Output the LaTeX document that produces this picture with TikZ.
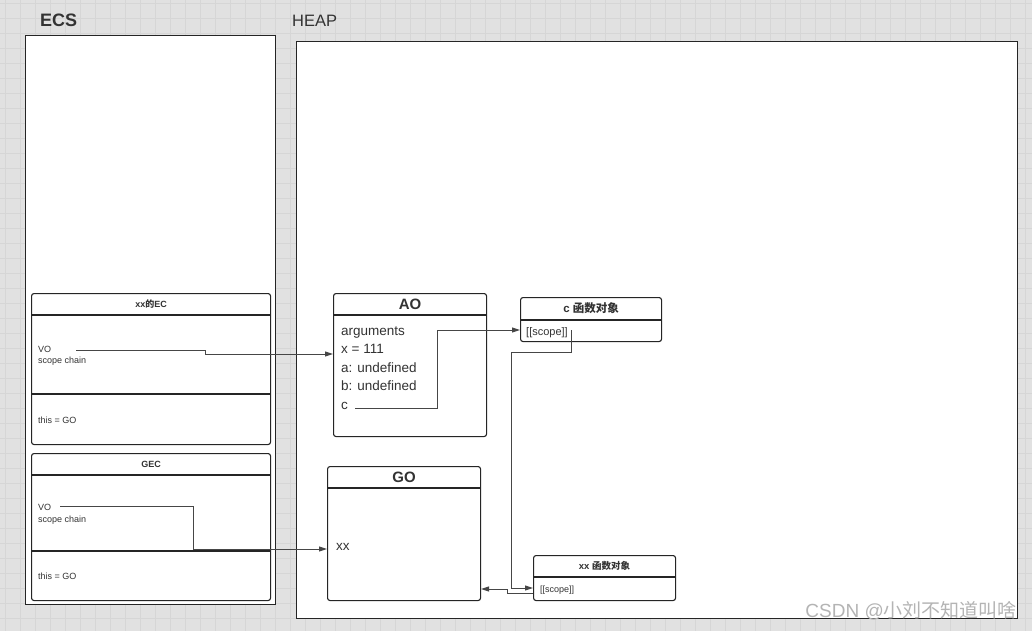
\documentclass[tikz,border=0pt]{standalone}
\usepackage{fontspec}
\setmainfont{Liberation Sans}
\newfontfamily\cjk{Noto Sans CJK SC}
\usetikzlibrary{arrows.meta,calc}
\definecolor{bg}{HTML}{E1E1E1}
\definecolor{gridc}{HTML}{D6D6D6}
\definecolor{ink}{HTML}{252525}
\definecolor{txt}{HTML}{333333}
\definecolor{wm}{HTML}{B4B4B4}
\tikzset{
  outerbox/.style={draw=ink, fill=white, line width=1.3pt, anchor=north west, inner sep=0pt},
  innerbox/.style={draw=ink, fill=white, line width=1.1pt, rounded corners=2.5pt, anchor=north west, inner sep=0pt},
  hdr/.style={draw=ink, line width=1.1pt},
  small/.style={font=\fontsize{9}{10}\selectfont, text=txt, anchor=base west, inner sep=0pt},
  smalltitle/.style={font=\fontsize{9}{10}\selectfont\bfseries, text=txt, inner sep=0pt},
  big/.style={font=\fontsize{13.5}{16}\selectfont, text=txt, anchor=base west, inner sep=0pt},
  bigtitle/.style={font=\fontsize{15}{18}\selectfont\bfseries, text=txt, inner sep=0pt},
  conn/.style={draw=ink!85, line width=1pt, -{Triangle[length=8pt,width=5pt]}},
  gridline/.style={draw=gridc, line width=0.8pt},
}
\begin{document}
\begin{tikzpicture}[x=1pt,y=-1pt]
\useasboundingbox (0,0) rectangle (1032,631);
\fill[bg] (0,0) rectangle (1032,631);
\foreach \gx in {5,20,...,1032} \draw[gridline] (\gx,0) -- (\gx,631);
\foreach \gy in {3,18,...,631} \draw[gridline] (0,\gy) -- (1032,\gy);

% section labels
\node[font=\fontsize{18}{20}\selectfont\bfseries, text=txt, anchor=base west, inner sep=0pt] (ecsl) at (40,27) {ECS};
\node[font=\fontsize{16.5}{20}\selectfont, text=txt, anchor=base west, inner sep=0pt] (heapl) at (292,27) {HEAP};

% outer boxes
\node[outerbox, minimum width=250pt, minimum height=569pt] (ecs) at (25,35) {};
\node[outerbox, minimum width=721pt, minimum height=577pt] (heap) at (296,41) {};

% xx的EC
\node[innerbox, minimum width=239pt, minimum height=151pt] (xxec) at (31,293) {};
\draw[hdr] ($(xxec.north west)+(0,22)$) -- ($(xxec.north east)+(0,22)$);
\draw[hdr] ($(xxec.north west)+(0,101)$) -- ($(xxec.north east)+(0,101)$);
\node[smalltitle] (xxect) at ($(xxec.north)+(0,11)$) {xx{\cjk 的}EC};
\node[small] (vo1) at (38,352) {VO};
\node[small] (sc1) at (38,363.5) {scope chain};
\node[small] (th1) at (38,423) {this = GO};

% GEC
\node[innerbox, minimum width=239pt, minimum height=147pt] (gec) at (31,453) {};
\draw[hdr] ($(gec.north west)+(0,22)$) -- ($(gec.north east)+(0,22)$);
\draw[hdr] ($(gec.north west)+(0,98)$) -- ($(gec.north east)+(0,98)$);
\node[smalltitle] (gect) at ($(gec.north)+(0,11)$) {GEC};
\node[small] (vo2) at (38,510) {VO};
\node[small] (sc2) at (38,522.5) {scope chain};
\node[small] (th2) at (38,579) {this = GO};

% AO
\node[innerbox, minimum width=153pt, minimum height=143pt] (ao) at (333,293) {};
\draw[hdr] ($(ao.north west)+(0,22)$) -- ($(ao.north east)+(0,22)$);
\node[bigtitle] (aot) at ($(ao.north)+(0,11)$) {AO};
\node[big] (aoa) at (341,335) {arguments};
\node[big] (aox) at (341,353) {x = 111};
\node[big] (aob) at (341,372) {a: undefined};
\node[big] (aoc) at (341,390) {b: undefined};
\node[big] (aod) at (341,409) {c};

% c 函数对象
\node[innerbox, minimum width=141pt, minimum height=44pt] (cfn) at (520,297) {};
\draw[hdr] ($(cfn.north west)+(0,23)$) -- ($(cfn.north east)+(0,23)$);
\node[font=\fontsize{11.5}{13}\selectfont\bfseries, text=txt, inner sep=0pt] (cfnt) at ($(cfn.north)+(0,11.5)$) {c {\cjk 函数对象}};
\node[font=\fontsize{11}{13}\selectfont, text=txt, anchor=base west, inner sep=0pt] (cfns) at (526,335) {[[scope]]};

% GO
\node[innerbox, minimum width=153pt, minimum height=134pt] (go) at (327,466) {};
\draw[hdr] ($(go.north west)+(0,22)$) -- ($(go.north east)+(0,22)$);
\node[bigtitle] (got) at ($(go.north)+(0,11)$) {GO};
\node[big] (goxx) at (336,550) {xx};

% xx 函数对象
\node[innerbox, minimum width=142pt, minimum height=45pt] (xxfn) at (533,555) {};
\draw[hdr] ($(xxfn.north west)+(0,22)$) -- ($(xxfn.north east)+(0,22)$);
\node[font=\fontsize{9.5}{11}\selectfont\bfseries, text=txt, inner sep=0pt] (xxfnt) at ($(xxfn.north)+(0,11)$) {xx {\cjk 函数对象}};
\node[small] (xxfns) at (540,592.5) {[[scope]]};

% connectors
\coordinate (vo1s) at (76,350);
\draw[conn] (vo1s) -- (205,350) -- (205,354) -- (ao.west |- 0,354);
\coordinate (vo2s) at (60,506);
\draw[conn] (vo2s) -| (193,549) -- (go.west |- 0,549);
\coordinate (cs) at (355,408);
\draw[conn] (cs) -| (437,330) -- (cfn.west |- 0,330);
\coordinate (cscope) at (571,330);
\draw[conn] (cscope) -- (571,352) -| (511,588) -- (xxfn.west |- 0,588);
\draw[conn] (xxfn.west |- 0,593) -| (507,589) -- (go.east |- 0,589);

% watermark
\node[anchor=base east, font=\fontsize{19}{21}\selectfont, text=wm, inner sep=0pt] (wmk) at (1017,617) {CSDN @{\cjk 小刘不知道叫啥}};
\end{tikzpicture}
\end{document}
